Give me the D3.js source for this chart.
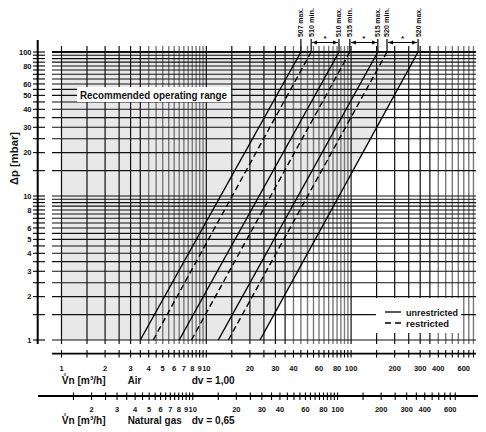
<!DOCTYPE html>
<html>
<head>
<meta charset="utf-8">
<script src="https://cdn.jsdelivr.net/npm/d3@7"></script>
<style>
body { margin: 0; background: #fff; }
svg text { font-family: "Liberation Sans", Arial, sans-serif; font-weight: bold; fill: #111; }
</style>
</head>
<body>
<div id="chart"></div>
<script>
// grid steps inside one decade
var gridSteps = [1, 1.5, 2, 2.5, 3, 3.5, 4, 4.5, 5, 5.5, 6, 6.5, 7, 7.5, 8, 8.5, 9, 9.5];

// the pressure curves, read at 1 mbar and at 100 mbar (air, m3/h)
var lineNames = ["507 max.", "510 min.", "510 max.", "515 min.", "515 max.", "520 min.", "520 max."];
var lineRestricted = [false, true, false, true, false, true, false];
var flowAt1 = [3.5, 4.3, 6.5, 7.9, 12.1, 14.2, 23.5];
var flowAt100 = [45, 53, 82.5, 98, 153, 177, 290];
// min / max pairs marked with an arrow
var rangePairs = [[1, 2], [3, 4], [5, 6]];

var yLabels = [1, 2, 3, 4, 5, 6, 8, 10, 20, 30, 40, 50, 60, 80, 100];
var airLabels = [1, 2, 3, 4, 5, 6, 7, 8, 9, 10, 20, 30, 40, 60, 80, 100, 200, 300, 400, 600];
var gasLabels = [2, 3, 4, 5, 6, 7, 8, 9, 10, 20, 30, 40, 60, 80, 100, 200, 300, 400, 600];
var dvGas = 0.65;

var W = 486, H = 432;

var svg = d3.select("#chart").append("svg")
    .attr("width", W).attr("height", H);

var x = d3.scaleLog().domain([1, 1000]).range([61.5, 61.5 + 3 * 144.8]);
var y = d3.scaleLog().domain([1, 100]).range([340, 52]);
var gasFactor = 1 / Math.sqrt(dvGas);
var xGas = d3.scaleLog().domain([gasFactor, 1000 * gasFactor]).range(x.range());

function decadeValues(decades, lo, hi) {
    var out = [];
    decades.forEach(function (d) {
        gridSteps.forEach(function (s) {
            var v = +(s * d).toPrecision(6);
            if (v >= lo && v <= hi) out.push(v);
        });
    });
    return out;
}
var xGrid = decadeValues([1, 10, 100], 1, 700);
var yGrid = decadeValues([1, 10, 100], 1, 100);
var gasTicks = decadeValues([1, 10, 100], 1.5, 650);

function stepOf(v) {
    var d = Math.pow(10, Math.floor(Math.log10(v) + 1e-9));
    return v / d;
}

// recommended operating range (left of the 520 max. curve)
var last = flowAt1.length - 1;
var area = [[1, 1], [flowAt1[last], 1], [flowAt100[last], 100], [1, 100]];
svg.append("path")
    .attr("d", d3.line().x(function (d) { return x(d[0]); }).y(function (d) { return y(d[1]); })(area) + "Z")
    .attr("fill", "#e8e8e8");

// grid
var grid = svg.append("g").attr("class", "grid");
grid.selectAll("line.v").data(xGrid).enter().append("line")
    .attr("class", "v")
    .attr("x1", function (d) { return x(d); }).attr("x2", function (d) { return x(d); })
    .attr("y1", 46).attr("y2", 344)
    .attr("stroke", function (d) { return stepOf(d) >= 4 ? "#7a7a7a" : "#111"; })
    .attr("stroke-width", function (d) { return stepOf(d) >= 4 ? 1.4 : 1.2; });
grid.selectAll("line.h").data(yGrid).enter().append("line")
    .attr("class", "h")
    .attr("x1", 52).attr("x2", 476)
    .attr("y1", function (d) { return y(d); }).attr("y2", function (d) { return y(d); })
    .attr("stroke", "#111")
    .attr("stroke-width", function (d) { return d === 100 ? 2 : 1.1; });

// label box
svg.append("rect").attr("x", 77).attr("y", 87).attr("width", 154).attr("height", 15).attr("fill", "#fff");
svg.append("text").attr("x", 80).attr("y", 98.5)
    .attr("font-size", "10px")
    .attr("textLength", 147).attr("lengthAdjust", "spacingAndGlyphs")
    .text("Recommended operating range");

// curves
var curves = svg.append("g");
lineNames.forEach(function (name, i) {
    curves.append("line")
        .attr("x1", x(flowAt1[i])).attr("y1", y(1))
        .attr("x2", x(flowAt100[i])).attr("y2", y(100))
        .attr("stroke", "#000").attr("stroke-width", 1.4)
        .attr("stroke-dasharray", lineRestricted[i] ? "6,3.5" : null);
    // leader up to the label
    curves.append("line")
        .attr("x1", x(flowAt100[i])).attr("x2", x(flowAt100[i]))
        .attr("y1", 39).attr("y2", y(100))
        .attr("stroke", "#000").attr("stroke-width", 1.2);
    curves.append("text")
        .attr("transform", "translate(" + x(flowAt100[i]) + ",37) rotate(-90)")
        .attr("dy", "0.35em")
        .attr("font-size", "7px")
        .attr("textLength", 29).attr("lengthAdjust", "spacingAndGlyphs")
        .text(name);
});

// arrows between min and max
var defs = svg.append("defs");
defs.append("marker").attr("id", "arr").attr("viewBox", "0 0 10 10")
    .attr("refX", 10).attr("refY", 5).attr("markerWidth", 5).attr("markerHeight", 5)
    .attr("orient", "auto-start-reverse")
    .append("path").attr("d", "M0,1 L10,5 L0,9 Z").attr("fill", "#000");
rangePairs.forEach(function (p) {
    var a = x(flowAt100[p[0]]) + 1, b = x(flowAt100[p[1]]) - 1;
    svg.append("line").attr("x1", a).attr("x2", b).attr("y1", 42.5).attr("y2", 42.5)
        .attr("stroke", "#000").attr("stroke-width", 1)
        .attr("marker-start", "url(#arr)").attr("marker-end", "url(#arr)");
    svg.append("text").attr("x", (a + b) / 2).attr("y", 41)
        .attr("text-anchor", "middle").attr("font-size", "8px").text("*");
});

// legend
svg.append("rect").attr("x", 376).attr("y", 298).attr("width", 85).attr("height", 35).attr("fill", "#fff");
svg.append("line").attr("x1", 385).attr("x2", 401).attr("y1", 312).attr("y2", 312)
    .attr("stroke", "#000").attr("stroke-width", 1.3);
svg.append("line").attr("x1", 385).attr("x2", 402).attr("y1", 323).attr("y2", 323)
    .attr("stroke", "#000").attr("stroke-width", 1.3).attr("stroke-dasharray", "6,4");
svg.append("text").attr("x", 406).attr("y", 315.5).attr("font-size", "9px")
    .attr("textLength", 52).attr("lengthAdjust", "spacingAndGlyphs").text("unrestricted");
svg.append("text").attr("x", 406).attr("y", 326.5).attr("font-size", "9px")
    .attr("textLength", 43).attr("lengthAdjust", "spacingAndGlyphs").text("restricted");

// left axis
var ax = svg.append("g");
ax.append("line").attr("x1", 37.7).attr("x2", 37.7).attr("y1", 40).attr("y2", 344)
    .attr("stroke", "#000").attr("stroke-width", 2);
ax.selectAll("line.t").data(yGrid).enter().append("line")
    .attr("class", "t")
    .attr("x1", 33).attr("x2", 45)
    .attr("y1", function (d) { return y(d); }).attr("y2", function (d) { return y(d); })
    .attr("stroke", "#000").attr("stroke-width", 1.1);
ax.selectAll("text").data(yLabels).enter().append("text")
    .attr("x", 31.5).attr("y", function (d) { return y(d); })
    .attr("dy", "0.35em").attr("text-anchor", "end")
    .attr("font-size", "7.5px")
    .text(function (d) { return d; });
svg.append("text")
    .attr("transform", "translate(18,158.5) rotate(-90)")
    .attr("text-anchor", "middle").attr("font-size", "11.5px")
    .attr("textLength", 53).attr("lengthAdjust", "spacingAndGlyphs")
    .text("\u0394p [mbar]");

// air axis
var air = svg.append("g");
air.append("line").attr("x1", 52).attr("x2", 476).attr("y1", 353.7).attr("y2", 353.7)
    .attr("stroke", "#000").attr("stroke-width", 1.8);
air.selectAll("line.t").data(xGrid).enter().append("line")
    .attr("class", "t")
    .attr("x1", function (d) { return x(d); }).attr("x2", function (d) { return x(d); })
    .attr("y1", 350).attr("y2", 357.5)
    .attr("stroke", "#000").attr("stroke-width", 1.1);
air.selectAll("text").data(airLabels).enter().append("text")
    .attr("x", function (d) { return x(d); }).attr("y", 370.5)
    .attr("text-anchor", "middle").attr("font-size", "7.5px")
    .text(function (d) { return d; });

// natural gas axis
var gas = svg.append("g");
gas.append("line").attr("x1", 38).attr("x2", 478).attr("y1", 396).attr("y2", 396)
    .attr("stroke", "#000").attr("stroke-width", 1.8);
gas.selectAll("line.t").data(gasTicks).enter().append("line")
    .attr("class", "t")
    .attr("x1", function (d) { return xGas(d); }).attr("x2", function (d) { return xGas(d); })
    .attr("y1", 392.5).attr("y2", 400)
    .attr("stroke", "#000").attr("stroke-width", 1.1);
gas.selectAll("text").data(gasLabels).enter().append("text")
    .attr("x", function (d) { return xGas(d); }).attr("y", 411.5)
    .attr("text-anchor", "middle").attr("font-size", "7.5px")
    .text(function (d) { return d; });

// captions under the two scales
function caption(x0, y0, len, txt) {
    svg.append("text").attr("x", x0).attr("y", y0).attr("font-size", "10.5px")
        .attr("textLength", len).attr("lengthAdjust", "spacingAndGlyphs").text(txt);
}
caption(61.7, 384, 44, "V\u030An [m\u00B3/h]");
caption(127.7, 384, 13.5, "Air");
caption(191.7, 384, 43, "dv = 1,00");
caption(61.7, 424, 44, "V\u030An [m\u00B3/h]");
caption(127.7, 424, 54, "Natural gas");
caption(191.7, 424, 43, "dv = 0,65");
</script>
</body>
</html>
